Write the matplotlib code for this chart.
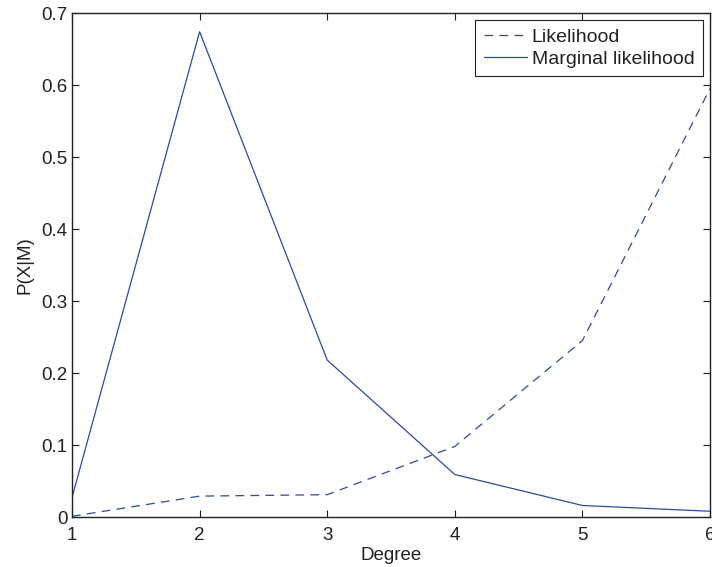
import matplotlib
matplotlib.use("Agg")
import matplotlib.pyplot as plt

degree = [1, 2, 3, 4, 5, 6]
likelihood = [0.001, 0.029, 0.031, 0.098, 0.245, 0.595]
marginal = [0.027, 0.674, 0.218, 0.059, 0.016, 0.008]

plt.rcParams['font.family'] = ['Liberation Sans', 'DejaVu Sans']
color = '#2a4aa8'

fig = plt.figure(figsize=(7.12, 5.67), dpi=100)
ax = fig.add_axes([72/712, 1-517/567, (710-72)/712, (517-13)/567])
ax.plot(degree, likelihood, '--', color=color, lw=0.9, dashes=(7, 5), label='Likelihood')
ax.plot(degree, marginal, '-', color=color, lw=0.9, label='Marginal likelihood')
ax.set_xlim(1, 6)
ax.set_ylim(0, 0.7)
ax.set_xticks(degree)
ax.set_yticks([0, 0.1, 0.2, 0.3, 0.4, 0.5, 0.6, 0.7])
ax.set_yticklabels(['0', '0.1', '0.2', '0.3', '0.4', '0.5', '0.6', '0.7'])
ax.tick_params(direction='in', top=True, right=True, labelsize=13.5, length=5,
               width=0.8, colors='#222222')
ax.tick_params(axis='x', pad=7)
ax.tick_params(axis='y', pad=3)
for s in ax.spines.values():
    s.set_linewidth(1.0)
    s.set_color('#222222')
ax.set_xlabel('Degree', fontsize=13.5, labelpad=2, color='#222222')
ax.set_ylabel('P(X|M)', fontsize=13.5, labelpad=6, color='#222222')
leg = ax.legend(loc='upper right', fontsize=14, frameon=True, fancybox=False,
                edgecolor='#222222', framealpha=1, handlelength=2.2,
                handletextpad=0.25, borderpad=0.45, labelspacing=0.2,
                borderaxespad=0.35)
leg.get_frame().set_linewidth(0.8)
for t in leg.get_texts():
    t.set_color('#222222')
fig.savefig('out.png', dpi=100)
